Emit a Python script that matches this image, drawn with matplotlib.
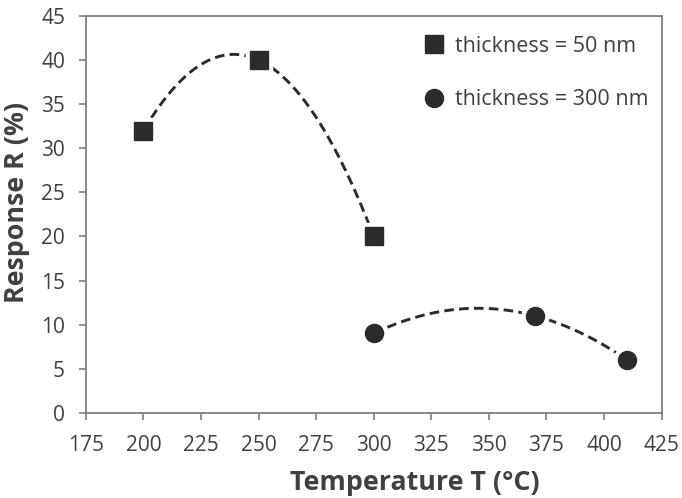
import numpy as np
import matplotlib
matplotlib.use("Agg")
import matplotlib.pyplot as plt

# data
temp_50 = [200, 250, 300]
resp_50 = [32, 40, 20]
temp_300 = [300, 370, 410]
resp_300 = [9, 11, 6]

x_ticks = list(range(175, 426, 25))
y_ticks = list(range(0, 46, 5))

DARK = "#2b2b2e"
TEXT = "#404040"
SPINE = "#7f7f7f"

plt.rcParams["font.family"] = ["Open Sans", "DejaVu Sans"]

fig = plt.figure(figsize=(6.82, 4.98), dpi=100)
ax = fig.add_axes([0.126, 0.171, 0.844, 0.797])


def trend(ax, xs, ys):
    # second-order trendline like the spreadsheet one
    c = np.polyfit(xs, ys, 2)
    xx = np.linspace(min(xs), max(xs), 200)
    ax.plot(xx, np.polyval(c, xx), ls=(0, (3.3, 1.8)), lw=2.1,
            color=DARK, zorder=2)


trend(ax, temp_50, resp_50)
trend(ax, temp_300, resp_300)

# white halo keeps the dashes off the markers
ax.plot(temp_50, resp_50, ls="none", marker="s", ms=18.5, mfc="white",
        mec="white", zorder=3)
ax.plot(temp_300, resp_300, ls="none", marker="o", ms=19.5, mfc="white",
        mec="white", zorder=3)
ax.plot(temp_50, resp_50, ls="none", marker="s", ms=12.5, color=DARK,
        zorder=4, label="thickness = 50 nm")
ax.plot(temp_300, resp_300, ls="none", marker="o", ms=13, color=DARK,
        zorder=4, label="thickness = 300 nm")

ax.set_xlim(175, 425)
ax.set_ylim(0, 45)
ax.set_xticks(x_ticks)
ax.set_yticks(y_ticks)
ax.tick_params(direction="out", length=5, width=1.2, color=SPINE,
               labelsize=15, labelcolor=TEXT)
ax.tick_params(axis="x", pad=11)
ax.tick_params(axis="y", pad=10)
for s in ax.spines.values():
    s.set_color(SPINE)
    s.set_linewidth(1.3)

ax.set_xlabel("Temperature T (°C)", fontsize=19.3, fontweight="bold",
              color=TEXT, va="center")
ax.xaxis.set_label_coords(0.572, -0.176)
ax.set_ylabel("Response R (%)", fontsize=19.3, fontweight="bold",
              color=TEXT, va="center")
ax.yaxis.set_label_coords(-0.120, 0.529)

ax.legend(loc="upper left", frameon=False, fontsize=15.5,
          labelcolor=TEXT, handlelength=0.8, handletextpad=0.55,
          labelspacing=1.5, borderaxespad=0, borderpad=0,
          bbox_to_anchor=(0.590, 0.950))

fig.savefig("out.png", dpi=100, facecolor="white")
